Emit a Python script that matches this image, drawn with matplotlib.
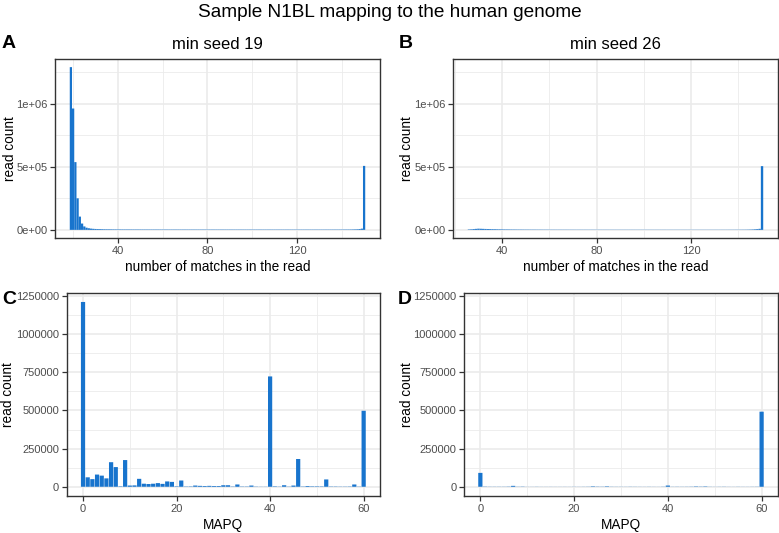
import matplotlib

matplotlib.use("Agg")
import matplotlib.pyplot as plt
from matplotlib.ticker import FuncFormatter, MultipleLocator

plt.rcParams["font.family"] = ["Liberation Sans", "DejaVu Sans"]

BLUE = "#1874CD"

# panel A: min seed 19, number of matches 19..150
matches_19 = list(range(19, 151))
count_19 = [
    1290000, 962000, 537000, 250000, 105000, 50000, 27000, 17000, 12500, 9800,
    8200, 7100, 6300, 5700, 5200, 4800, 4500, 4300, 4100, 3900,
    3800, 3700, 3600, 3550, 3500, 3450, 3400, 3350, 3300, 3260,
    3220, 3190, 3160, 3130, 3100, 3080, 3060, 3040, 3020, 3000,
    2985, 2970, 2955, 2940, 2925, 2910, 2900, 2890, 2880, 2870,
    2860, 2850, 2840, 2830, 2820, 2810, 2800, 2795, 2790, 2785,
    2780, 2775, 2770, 2765, 2760, 2755, 2750, 2745, 2740, 2735,
    2730, 2725, 2720, 2715, 2710, 2705, 2700, 2695, 2690, 2685,
    2680, 2675, 2670, 2665, 2660, 2655, 2650, 2645, 2640, 2635,
    2630, 2625, 2620, 2615, 2610, 2605, 2600, 2598, 2596, 2594,
    2592, 2590, 2588, 2586, 2584, 2582, 2580, 2578, 2576, 2574,
    2572, 2570, 2580, 2590, 2600, 2620, 2640, 2660, 2690, 2720,
    2760, 2810, 2870, 2950, 3050, 3200, 3500, 4000, 4800, 6200,
    9500, 507000,
]

# panel B: min seed 26, number of matches 26..150
matches_26 = list(range(26, 151))
count_26 = [
    3500, 4500, 6200, 7800, 9200, 8600, 7900, 7200, 6600, 6000,
    5500, 5100, 4700, 4400, 4100, 3800, 3600, 3400, 3200, 3000,
    2900, 2800, 2700, 2600, 2500, 2450, 2400, 2350, 2300, 2250,
    2200, 2150, 2100, 2060, 2020, 1990, 1960, 1930, 1900, 1880,
    1860, 1840, 1820, 1800, 1780, 1760, 1745, 1730, 1715, 1700,
    1690, 1680, 1670, 1660, 1650, 1640, 1630, 1620, 1610, 1600,
    1592, 1584, 1576, 1568, 1560, 1552, 1545, 1538, 1531, 1524,
    1518, 1512, 1506, 1500, 1495, 1490, 1485, 1480, 1475, 1470,
    1466, 1462, 1458, 1454, 1450, 1446, 1442, 1438, 1434, 1430,
    1427, 1424, 1421, 1418, 1415, 1412, 1410, 1408, 1406, 1404,
    1402, 1400, 1405, 1410, 1420, 1430, 1445, 1460, 1480, 1500,
    1530, 1560, 1600, 1650, 1720, 1800, 1900, 2050, 2300, 2700,
    3400, 4500, 6000, 8200, 505000,
]

# panels C and D: MAPQ 0..60
mapq = list(range(0, 61))
mapq_19 = [
    1211000, 62000, 50000, 80000, 73000, 55000, 161000, 129000, 3000, 175000,
    8000, 9000, 52000, 20000, 18000, 20000, 24000, 19000, 35000, 32000,
    3000, 41000, 2000, 2500, 8000, 6000, 5000, 6000, 5000, 5000,
    10000, 10000, 2000, 15000, 2000, 2000, 8000, 1500, 1000, 1000,
    723000, 3000, 1500, 10000, 1500, 8000, 182000, 2000, 5000, 3000,
    3000, 2500, 48000, 2000, 2000, 1500, 1500, 2000, 15000, 1500,
    498000,
]
mapq_26 = [
    91000, 1500, 1000, 1000, 1000, 1000, 1500, 6000, 1000, 1500,
    500, 500, 800, 500, 500, 600, 500, 500, 600, 500,
    800, 600, 800, 1000, 3000, 1500, 1200, 3000, 1000, 800,
    800, 700, 1000, 800, 700, 600, 800, 600, 500, 1000,
    8000, 800, 1000, 800, 1000, 1200, 2500, 1500, 2500, 800,
    600, 800, 1000, 600, 500, 800, 600, 600, 800, 1000,
    492000,
]


def ggplot_lim(lo, hi):
    pad = (hi - lo) * 0.05
    return lo - pad, hi + pad


def style_axes(ax):
    ax.set_facecolor("white")
    ax.set_axisbelow(True)
    ax.grid(which="major", color="#EBEBEB", linewidth=1.2)
    ax.grid(which="minor", color="#EBEBEB", linewidth=0.6)
    for s in ax.spines.values():
        s.set_color("#333333")
        s.set_linewidth(1.0)
    ax.tick_params(which="major", direction="out", length=3.5, width=0.9,
                   color="#333333", labelcolor="#4D4D4D", labelsize=8.0, pad=2)
    ax.tick_params(which="minor", length=0)


def place_ylabel(ax, xpos):
    ax.set_ylabel("read count", fontsize=9.8)
    ax.yaxis.set_label_coords(xpos, 0.5)
    ax.yaxis.label.set_va("center")


def hist_panel(ax, x, y, ymax, title, ylab_x):
    ax.bar(x, y, width=1.0, color=BLUE, linewidth=0, snap=False)
    ax.set_xlim(*ggplot_lim(x[0] - 0.5, x[-1] + 0.5))
    ax.set_ylim(*ggplot_lim(0, ymax))
    ax.xaxis.set_major_locator(MultipleLocator(40))
    ax.xaxis.set_minor_locator(MultipleLocator(20))
    ax.yaxis.set_major_locator(MultipleLocator(500000))
    ax.yaxis.set_minor_locator(MultipleLocator(250000))
    ax.yaxis.set_major_formatter(FuncFormatter(lambda v, p: f"{v:.0e}"))
    style_axes(ax)
    ax.set_title(title, fontsize=12, pad=7)
    ax.set_xlabel("number of matches in the read", fontsize=9.8, labelpad=3)
    place_ylabel(ax, ylab_x)


def mapq_panel(ax, x, y, ymax, ylab_x):
    ax.bar(x, y, width=0.9, color=BLUE, linewidth=0, snap=False)
    ax.set_xlim(*ggplot_lim(x[0] - 0.45, x[-1] + 0.45))
    ax.set_ylim(*ggplot_lim(0, ymax))
    ax.xaxis.set_major_locator(MultipleLocator(20))
    ax.xaxis.set_minor_locator(MultipleLocator(10))
    ax.yaxis.set_major_locator(MultipleLocator(250000))
    ax.yaxis.set_minor_locator(MultipleLocator(125000))
    ax.yaxis.set_major_formatter(FuncFormatter(lambda v, p: f"{v:.0f}"))
    style_axes(ax)
    ax.set_xlabel("MAPQ", fontsize=9.8, labelpad=3)
    place_ylabel(ax, ylab_x)


fig = plt.figure(figsize=(7.79, 5.33), dpi=100)
fig.patch.set_facecolor("white")

ax_a = fig.add_axes([0.0706, 0.5535, 0.4172, 0.3358])
ax_b = fig.add_axes([0.5815, 0.5535, 0.4172, 0.3358])
ax_c = fig.add_axes([0.0856, 0.0694, 0.4022, 0.3814])
ax_d = fig.add_axes([0.5956, 0.0694, 0.4031, 0.3814])

top_ab = max(max(count_19), max(count_26))
top_cd = max(max(mapq_19), max(mapq_26))
hist_panel(ax_a, matches_19, count_19, top_ab, "min seed 19", -0.138)
hist_panel(ax_b, matches_26, count_26, top_ab, "min seed 26", -0.143)
mapq_panel(ax_c, mapq, mapq_19, top_cd, -0.186)
mapq_panel(ax_d, mapq, mapq_26, top_cd, -0.183)

fig.suptitle("Sample N1BL mapping to the human genome", fontsize=13.7, y=0.976, va="center")

for label, (px, py) in zip("ABCD", [(2, 44), (399, 44), (2, 300), (398, 300)]):
    fig.text(px / 779, 1 - py / 533, label, fontsize=14, fontweight="bold",
             ha="left", va="center")

fig.savefig("out.png", dpi=100, facecolor="white")
